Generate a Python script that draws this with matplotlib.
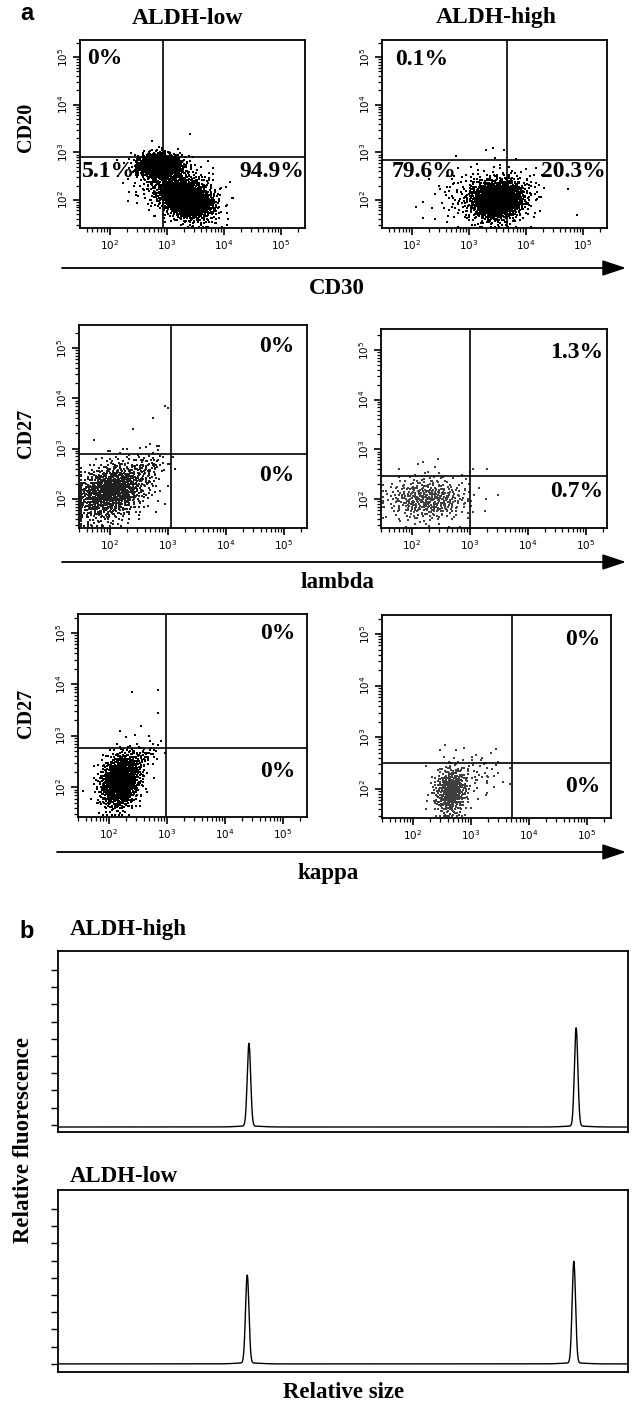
import numpy as np
import matplotlib
matplotlib.use("Agg")
import matplotlib.pyplot as plt
from matplotlib.ticker import LogLocator, NullFormatter, LogFormatterMathtext

W, H = 633, 1402
SERIF = ["Liberation Serif", "DejaVu Serif"]
SANS = ["Liberation Sans", "DejaVu Sans"]

# ---------------- data: panel a (flow cytometry, log10 units) ----------------
col_titles = ["ALDH-low", "ALDH-high"]
row_xlabels = ["CD30", "lambda", "kappa"]
row_ylabels = ["CD20", "CD27", "CD27"]

# gate positions (log10 x, log10 y) per panel, row-major: (row, col)
gate_x = [[2.94, 3.68], [3.05, 3.00], [2.98, 3.72]]
gate_y = [[2.90, 2.84], [2.89, 2.46], [2.76, 2.50]]

# quadrant percentages: (text, axes-x, axes-y, ha)
pct_r1_low = [("0%", 0.03, 0.904, "left"), ("5.1%", 0.01, 0.298, "left"), ("94.9%", 0.995, 0.298, "right")]
pct_r1_high = [("0.1%", 0.058, 0.894, "left"), ("79.6%", 0.044, 0.298, "left"), ("20.3%", 0.995, 0.298, "right")]
pct_r2_low = [("0%", 0.947, 0.892, "right"), ("0%", 0.947, 0.261, "right")]
pct_r2_high = [("1.3%", 0.982, 0.884, "right"), ("0.7%", 0.982, 0.181, "right")]
pct_r3_low = [("0%", 0.948, 0.906, "right"), ("0%", 0.948, 0.222, "right")]
pct_r3_high = [("0%", 0.952, 0.877, "right"), ("0%", 0.952, 0.153, "right")]

# event populations estimated from the dot plots:
# (centre x, centre y, sd x, sd y, correlation, number of events)
pops_r1_low = [(2.88, 2.72, 0.18, 0.12, 0.0, 1300), (3.35, 2.02, 0.24, 0.22, -0.3, 1500),
               (3.10, 2.35, 0.38, 0.30, -0.2, 300)]
pops_r1_high = [(3.52, 2.00, 0.22, 0.20, 0.1, 1400), (3.35, 2.10, 0.45, 0.30, 0.1, 300)]
pops_r2_low = [(2.02, 2.14, 0.33, 0.30, 0.3, 950), (2.60, 2.60, 0.22, 0.16, 0.4, 80)]
pops_r2_high = [(2.28, 2.00, 0.36, 0.22, 0.0, 420)]
pops_r3_low = [(2.20, 2.12, 0.17, 0.26, 0.2, 1100), (2.55, 2.55, 0.16, 0.15, 0.5, 70)]
pops_r3_high = [(2.66, 1.95, 0.15, 0.25, 0.1, 420), (3.20, 2.30, 0.22, 0.20, 0.0, 40)]

# isolated events (log10 x, log10 y)
out_r1_low = [(2.70, 2.95), (3.20, 2.95)]
out_r1_high = [(3.30, 3.05), (3.42, 3.10), (3.62, 3.05)]
out_r2_low = [(2.95, 3.85), (3.00, 3.80), (2.75, 3.60), (2.40, 3.40), (2.70, 3.10),
              (2.85, 3.05), (2.30, 3.00), (2.00, 2.95)]
out_r2_high = [(2.10, 2.70), (2.20, 2.75), (2.40, 2.65), (2.45, 2.80), (3.05, 2.60),
               (3.30, 2.60), (3.00, 2.55)]
out_r3_low = [(2.40, 3.85), (2.85, 3.90), (2.85, 3.45), (2.55, 3.20), (2.20, 3.10),
              (2.70, 3.00), (2.90, 2.90)]
out_r3_high = [(2.55, 2.85), (2.75, 2.75), (3.35, 2.70), (3.10, 2.65)]

# axis limits (log10) per panel
xlims = [[(1.48, 5.43), (1.48, 5.43)], [(1.47, 5.40), (1.47, 5.37)], [(1.47, 5.42), (1.47, 5.42)]]
ylims = [[(1.41, 5.36), (1.41, 5.36)], [(1.42, 5.46), (1.42, 5.42)], [(1.42, 5.37), (1.43, 5.37)]]

# ---------------- data: panel b (fragment analysis) ----------------
b_titles = ["ALDH-high", "ALDH-low"]
b_peak_pos = [[33.5, 90.9], [33.2, 90.5]]
b_peak_height = [[4.8, 5.7], [5.1, 5.9]]
b_baseline = [-0.12, 0.0]

# ---------------- helpers ----------------
def rect(x0, y0, x1, y1):
    return [x0 / W, 1 - y1 / H, (x1 - x0) / W, (y1 - y0) / H]


def halton(n, base, start):
    out = np.empty(n)
    for i in range(n):
        k = i + 1 + start
        f, r = 1.0, 0.0
        while k > 0:
            f /= base
            r += f * (k % base)
            k //= base
        out[i] = r
    return out


def population(cx, cy, sx, sy, rho, n, start):
    # deterministic quasi-Monte-Carlo sampling of a 2D normal population
    u1 = halton(n, 2, start)
    u2 = halton(n, 3, start)
    r = np.sqrt(-2 * np.log(u1))
    z1 = r * np.cos(2 * np.pi * u2)
    z2 = r * np.sin(2 * np.pi * u2)
    x = cx + sx * z1
    y = cy + sy * (rho * z1 + np.sqrt(1 - rho ** 2) * z2)
    return x, y


fig = plt.figure(figsize=(W / 100, H / 100), dpi=100)

boxes = [[(80, 40, 305, 228), (382, 40, 607, 228)],
         [(79, 325, 307, 528), (381, 329, 607, 528)],
         [(78, 614, 307, 817), (382, 615, 611, 818)]]
pops = [[pops_r1_low, pops_r1_high], [pops_r2_low, pops_r2_high], [pops_r3_low, pops_r3_high]]
outs = [[out_r1_low, out_r1_high], [out_r2_low, out_r2_high], [out_r3_low, out_r3_high]]
pcts = [[pct_r1_low, pct_r1_high], [pct_r2_low, pct_r2_high], [pct_r3_low, pct_r3_high]]
dotcol = [["k", "k"], ["#202020", "#404040"], ["k", "#404040"]]
dotsize = [[1.1, 1.1], [0.9, 0.9], [1.0, 0.9]]

start = 17
for r in range(3):
    for c in range(2):
        ax = fig.add_axes(rect(*boxes[r][c]))
        xl, yl = xlims[r][c], ylims[r][c]
        xs, ys = [], []
        for p in pops[r][c]:
            x, y = population(*p, start)
            start += p[5] + 101
            xs.append(x)
            ys.append(y)
        for (ox, oy) in outs[r][c]:
            xs.append(np.array([ox]))
            ys.append(np.array([oy]))
        x = np.clip(np.concatenate(xs), xl[0] + 0.03, xl[1] - 0.03)
        y = np.clip(np.concatenate(ys), yl[0] + 0.03, yl[1] - 0.03)
        ax.scatter(10 ** x, 10 ** y, s=dotsize[r][c], marker="s", c=dotcol[r][c],
                   linewidths=0, zorder=2)
        ax.set_xscale("log")
        ax.set_yscale("log")
        ax.set_xlim(10 ** xl[0], 10 ** xl[1])
        ax.set_ylim(10 ** yl[0], 10 ** yl[1])
        ax.axvline(10 ** gate_x[r][c], color="k", lw=1.2, zorder=3)
        ax.axhline(10 ** gate_y[r][c], color="k", lw=1.2, zorder=3)
        for sp in ax.spines.values():
            sp.set_linewidth(1.3)
        for axis in (ax.xaxis, ax.yaxis):
            axis.set_major_locator(LogLocator(base=10, numticks=10))
            axis.set_minor_locator(LogLocator(base=10, subs=np.arange(2, 10), numticks=20))
            axis.set_major_formatter(LogFormatterMathtext())
            axis.set_minor_formatter(NullFormatter())
        ax.tick_params(which="major", direction="out", length=5, width=1.2, labelsize=7.5, pad=2)
        ax.tick_params(which="minor", direction="out", length=3, width=0.9)
        ax.tick_params(axis="y", labelrotation=90)
        for lab in ax.get_yticklabels():
            lab.set_va("center")
        for (t, px, py, ha) in pcts[r][c]:
            ax.text(px, py, t, transform=ax.transAxes, ha=ha, va="center",
                    fontsize=17, fontweight="bold", family=SERIF, zorder=4)

# ylabels
for (lab, yc) in zip(row_ylabels, [127, 433, 713]):
    fig.text(26 / W, 1 - yc / H, lab, rotation=90, ha="center", va="center",
             fontsize=14.5, fontweight="bold", family=SERIF)

# column titles
for (t, xc) in zip(col_titles, [187, 496]):
    fig.text(xc / W, 1 - 18 / H, t, ha="center", va="center",
             fontsize=17, fontweight="bold", family=SERIF)

# axis arrows and x-labels
arrow_y = [268, 562, 852]
arrow_x0 = [62, 62, 57]
label_pos = [(337, 288), (337, 582), (328, 873)]
for ay, ax0, lab, (lx, ly) in zip(arrow_y, arrow_x0, row_xlabels, label_pos):
    fig.add_artist(matplotlib.patches.FancyArrowPatch(
        (ax0 / W, 1 - ay / H), (626 / W, 1 - ay / H), transform=fig.transFigure,
        arrowstyle="-|>,head_length=0.9,head_width=0.3", mutation_scale=16,
        lw=1.3, color="k", shrinkA=0, shrinkB=0))
    fig.text(lx / W, 1 - ly / H, lab, ha="center", va="center",
             fontsize=16.5, fontweight="bold", family=SERIF)

# panel letters
fig.text(27 / W, 1 - 14 / H, "a", ha="center", va="center", fontsize=17,
         fontweight="bold", family=SANS)
fig.text(27 / W, 1 - 932 / H, "b", ha="center", va="center", fontsize=17,
         fontweight="bold", family=SANS)

# ---------------- panel b ----------------
bboxes = [(58, 951, 628, 1132), (58, 1190, 628, 1372)]
bylims = [(-0.41, 10.1), (-0.47, 10.1)]
btitle_y = [930, 1177]
bx = np.linspace(0, 100, 8001)
for i in range(2):
    ax = fig.add_axes(rect(*bboxes[i]))
    yv = np.full_like(bx, b_baseline[i])
    for p, h in zip(b_peak_pos[i], b_peak_height[i]):
        yv = yv + h * np.exp(-0.5 * ((bx - p) / 0.3) ** 2)
        yv = yv + 0.06 * np.exp(-0.5 * ((bx - p) / 2.0) ** 2)
    ax.plot(bx, yv, color="k", lw=1.0)
    ax.set_xlim(0, 100)
    ax.set_ylim(*bylims[i])
    ax.set_yticks(np.arange(0, 10))
    ax.set_yticklabels([])
    ax.set_xticks([])
    ax.tick_params(axis="y", direction="out", length=5, width=1.0)
    for sp in ax.spines.values():
        sp.set_linewidth(1.3)
    fig.text(70 / W, 1 - btitle_y[i] / H, b_titles[i], ha="left", va="center",
             fontsize=16.5, fontweight="bold", family=SERIF)

fig.text(24 / W, 1 - 1140 / H, "Relative fluorescence", rotation=90, ha="center",
         va="center", fontsize=16.5, fontweight="bold", family=SERIF)
fig.text(344 / W, 1 - 1392 / H, "Relative size", ha="center", va="center",
         fontsize=16.5, fontweight="bold", family=SERIF)

fig.savefig("out.png", dpi=100)
